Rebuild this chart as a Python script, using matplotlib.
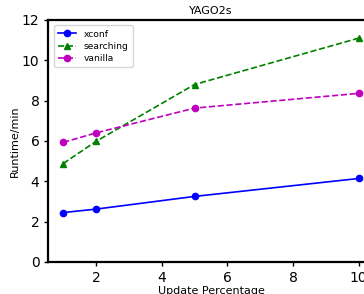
import matplotlib
matplotlib.use('Agg')
import matplotlib.pyplot as plt

# update percentage
pct = [1, 2, 5, 10]
xconf = [2.45, 2.62, 3.25, 4.14]
searching = [4.88, 5.98, 8.8, 11.1]
vanilla = [5.93, 6.4, 7.63, 8.36]

fig = plt.figure(figsize=(3.64, 2.94), dpi=100)
ax = fig.add_axes([0.133, 0.109, 0.893, 0.823])

ax.plot(pct, xconf, 'b-o', label='xconf', linewidth=1.2, markersize=4.5)
ax.plot(pct, searching, 'g--^', label='searching', linewidth=1.2, markersize=4.5)
ax.plot(pct, vanilla, 'm--o', label='vanilla', linewidth=1.2, markersize=4.5)

ax.set_ylim(0, 12)
ax.set_xticks([2, 4, 6, 8, 10])
ax.set_yticks([0, 2, 4, 6, 8, 10, 12])
ax.tick_params(labelsize=10, width=1, length=3)
for s in ax.spines.values():
    s.set_linewidth(1.6)

ax.set_title('YAGO2s', fontsize=8, pad=4)
ax.set_xlabel('Update Percentage', fontsize=8, labelpad=1)
ax.set_ylabel('Runtime/min', fontsize=8, labelpad=1)
ax.legend(loc='upper left', fontsize=6.6, framealpha=0.8, handlelength=2.0,
          borderpad=0.45, labelspacing=0.35, borderaxespad=0.6)

fig.savefig('out.png', dpi=100)
